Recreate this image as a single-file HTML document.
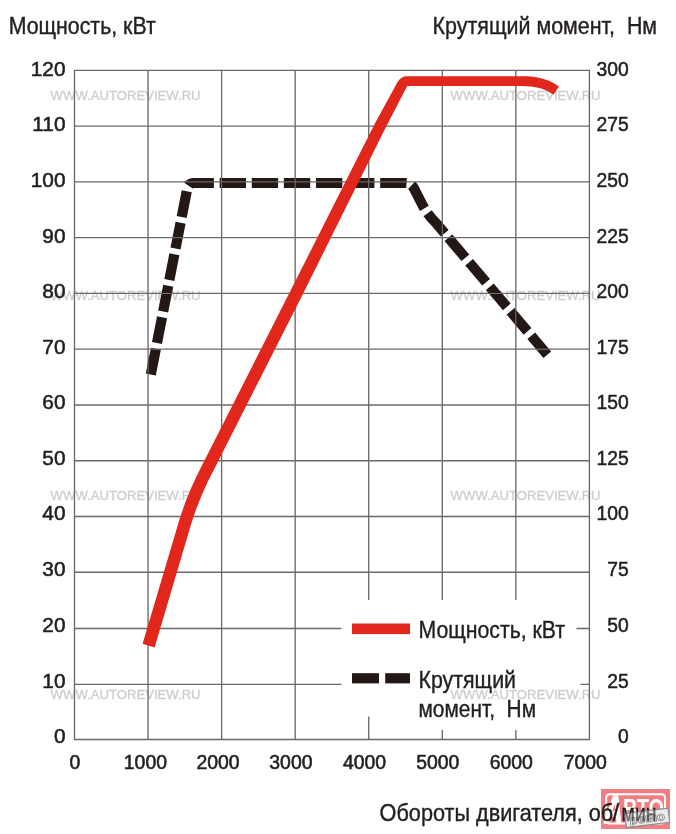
<!DOCTYPE html>
<html lang="ru"><head><meta charset="utf-8"><title>Мощность и крутящий момент</title>
<style>
html,body{margin:0;padding:0;background:#fff;}
body{width:676px;height:834px;overflow:hidden;}
svg{display:block;font-family:"Liberation Sans",sans-serif;}
.t{fill:#231f20}
.wm{fill:#cdcdcd;stroke:#cdcdcd;stroke-width:0.3px;font-size:13.4px}
.tt{stroke:#231f20;stroke-width:0.4px}
.tk{stroke:#231f20;stroke-width:0.55px}
</style></head><body>
<svg width="676" height="834" viewBox="0 0 676 834">
<rect width="676" height="834" fill="#fff"/>

<g class="wm">
<text x="50.6" y="100" textLength="150" lengthAdjust="spacingAndGlyphs">WWW.AUTOREVIEW.RU</text>
<text x="450.6" y="100" textLength="150" lengthAdjust="spacingAndGlyphs">WWW.AUTOREVIEW.RU</text>
<text x="50.6" y="300" textLength="150" lengthAdjust="spacingAndGlyphs">WWW.AUTOREVIEW.RU</text>
<text x="450.6" y="300" textLength="150" lengthAdjust="spacingAndGlyphs">WWW.AUTOREVIEW.RU</text>
<text x="50.6" y="499.8" textLength="150" lengthAdjust="spacingAndGlyphs">WWW.AUTOREVIEW.RU</text>
<text x="450.6" y="499.8" textLength="150" lengthAdjust="spacingAndGlyphs">WWW.AUTOREVIEW.RU</text>
<text x="50.6" y="699.4" textLength="150" lengthAdjust="spacingAndGlyphs">WWW.AUTOREVIEW.RU</text>
<text x="450.6" y="699.4" textLength="150" lengthAdjust="spacingAndGlyphs">WWW.AUTOREVIEW.RU</text>
</g>
<g stroke="#6a6a6a" stroke-width="1.35" fill="none">
<line x1="74.50" y1="70.40" x2="74.50" y2="739.50"/>
<line x1="148.06" y1="70.40" x2="148.06" y2="739.50"/>
<line x1="221.61" y1="70.40" x2="221.61" y2="739.50"/>
<line x1="295.17" y1="70.40" x2="295.17" y2="739.50"/>
<line x1="368.73" y1="70.40" x2="368.73" y2="739.50"/>
<line x1="442.29" y1="70.40" x2="442.29" y2="739.50"/>
<line x1="515.84" y1="70.40" x2="515.84" y2="739.50"/>
<line x1="589.40" y1="70.40" x2="589.40" y2="739.50"/>
<line x1="73.90" y1="70.40" x2="590.00" y2="70.40"/>
<line x1="73.90" y1="126.16" x2="590.00" y2="126.16"/>
<line x1="73.90" y1="181.92" x2="590.00" y2="181.92"/>
<line x1="73.90" y1="237.68" x2="590.00" y2="237.68"/>
<line x1="73.90" y1="293.43" x2="590.00" y2="293.43"/>
<line x1="73.90" y1="349.19" x2="590.00" y2="349.19"/>
<line x1="73.90" y1="404.95" x2="590.00" y2="404.95"/>
<line x1="73.90" y1="460.71" x2="590.00" y2="460.71"/>
<line x1="73.90" y1="516.47" x2="590.00" y2="516.47"/>
<line x1="73.90" y1="572.23" x2="590.00" y2="572.23"/>
<line x1="73.90" y1="628.48" x2="590.00" y2="628.48"/>
<line x1="73.90" y1="684.44" x2="590.00" y2="684.44"/>
<line x1="73.90" y1="739.50" x2="590.00" y2="739.50" stroke-width="1.6"/>
</g>
<rect x="341.5" y="600" width="235" height="116.5" fill="#fff"/><rect x="410" y="660" width="170.5" height="70" fill="#fff"/>
<clipPath id="lb"><rect x="341.5" y="600" width="235" height="116.5"/><rect x="410" y="660" width="170.5" height="70"/></clipPath>
<g class="wm" clip-path="url(#lb)"><text x="450.6" y="699.4" textLength="150" lengthAdjust="spacingAndGlyphs">WWW.AUTOREVIEW.RU</text></g>
<path d="M150.8,374.6 L187.3,188.5 Q188.4,183 194,183 L406,183 Q411,183 414,188.5 L423,206 Q428,215 436,223 L547.3,354.8" fill="none" stroke="#231815" stroke-width="10.2" stroke-dasharray="26.3 5.8"/>
<mask id="bm" maskUnits="userSpaceOnUse" x="0" y="0" width="676" height="834"><path d="M150.8,374.6 L187.3,188.5 Q188.4,183 194,183 L406,183 Q411,183 414,188.5 L423,206 Q428,215 436,223 L547.3,354.8" fill="none" stroke="#fff" stroke-width="10.2" stroke-dasharray="26.3 5.8"/></mask>
<g mask="url(#bm)" stroke="#a09a96" stroke-width="0.9" opacity="0.8" fill="none">
<line x1="148.06" y1="176.00" x2="148.06" y2="380.00"/>
<line x1="221.61" y1="176.00" x2="221.61" y2="380.00"/>
<line x1="295.17" y1="176.00" x2="295.17" y2="380.00"/>
<line x1="368.73" y1="176.00" x2="368.73" y2="380.00"/>
<line x1="442.29" y1="176.00" x2="442.29" y2="380.00"/>
<line x1="515.84" y1="176.00" x2="515.84" y2="380.00"/>
<line x1="140.00" y1="181.92" x2="560.00" y2="181.92"/>
<line x1="140.00" y1="237.68" x2="560.00" y2="237.68"/>
<line x1="140.00" y1="293.43" x2="560.00" y2="293.43"/>
<line x1="140.00" y1="349.19" x2="560.00" y2="349.19"/>
</g>
<path d="M154.6,647.4 L142.6,643.8 L178.5,522.7 L179.9,518.0 L181.5,513.3 L183.1,508.7 L184.8,504.0 L186.5,499.3 L188.4,494.7 L190.3,490.0 L192.3,485.4 L194.5,480.8 L196.6,476.2 L198.9,471.6 L290.6,290.6 L375.0,123.2 L397.7,81.8 Q400.8,76.2 407.3,76.2 L522.0,76.2 L526.8,76.3 L531.4,76.6 L535.9,77.2 L540.1,78.1 L544.2,79.2 L548.2,80.6 L552.0,82.3 L555.6,84.3 L558.9,86.5 L553.5,94.7 L550.5,92.8 L547.6,91.2 L544.5,89.8 L541.3,88.6 L537.9,87.7 L534.2,87.0 L530.4,86.5 L526.3,86.2 L522.0,86.0 L407.2,86.0 L385.2,128.4 L301.8,296.2 L210.1,477.2 L207.9,481.6 L205.8,486.1 L203.8,490.5 L201.8,495.0 L200.0,499.4 L198.2,503.9 L196.5,508.3 L194.9,512.8 L193.3,517.3 L191.9,521.8 L190.5,526.3 L154.6,647.4Z" fill="#e1261c"/>
<g>
<rect x="601" y="789" width="69" height="40" fill="#ef7f83"/>
<rect x="606.2" y="794.2" width="58.8" height="29.3" rx="3.5" ry="3.5" fill="none" stroke="#fff" stroke-width="1.9"/>
<text x="604.6" y="822.6" font-size="39px" font-weight="bold" font-style="italic" fill="#fff" stroke="#fff" stroke-width="1.6" stroke-linejoin="round" textLength="18" lengthAdjust="spacingAndGlyphs">А</text>
<text x="623" y="818.2" font-size="27px" font-weight="bold" fill="#fff" textLength="41" lengthAdjust="spacingAndGlyphs">ВТО</text>
</g>
<g transform="rotate(-7 647 818)"><rect x="625.5" y="810.8" width="43.5" height="14.2" rx="1.5" fill="#ececec" stroke="#8c8c8c" stroke-width="1.1"/>
<text x="629" y="822.3" font-size="12px" font-weight="bold" fill="#f2f2f2" stroke="#8e8e8e" stroke-width="0.8" textLength="36" lengthAdjust="spacingAndGlyphs">ревю</text></g>
<rect x="352" y="623.5" width="58" height="10.6" fill="#e1261c"/>
<rect x="352" y="673.2" width="27" height="10.2" fill="#231815"/><rect x="385.2" y="673.2" width="24.8" height="10.2" fill="#231815"/>
<g class="t tt" font-size="24.6px">
<text x="418.5" y="637.7" textLength="146.5" lengthAdjust="spacingAndGlyphs">Мощность, кВт</text>
<text x="418.5" y="687.9" textLength="97.5" lengthAdjust="spacingAndGlyphs">Крутящий</text>
<text x="418.5" y="716.7" textLength="117.5" lengthAdjust="spacingAndGlyphs" xml:space="preserve">момент,  Нм</text>
<text x="8.7" y="33.8" textLength="147" lengthAdjust="spacingAndGlyphs">Мощность, кВт</text>
<text x="432.6" y="33.8" textLength="224.5" lengthAdjust="spacingAndGlyphs" xml:space="preserve">Крутящий момент,  Нм</text>
<text x="379.6" y="821.2" textLength="233.6" lengthAdjust="spacingAndGlyphs">Обороты двигателя, об</text>
<text x="612.6" y="821.2">/</text>
<text x="621.6" y="821.2" textLength="35" lengthAdjust="spacingAndGlyphs">мин</text>
</g>
<g transform="rotate(-7 647 818)" opacity="0.35"><rect x="625.5" y="810.8" width="43.5" height="14.2" rx="1.5" fill="#ececec" stroke="#8c8c8c" stroke-width="1.1"/>
<text x="629" y="822.3" font-size="12px" font-weight="bold" fill="#f2f2f2" stroke="#8e8e8e" stroke-width="0.8" textLength="36" lengthAdjust="spacingAndGlyphs">ревю</text></g>
<g class="t tk" font-size="20.8px" text-anchor="end">
<text x="65.5" y="75.8">120</text>
<text x="65.5" y="131.4">110</text>
<text x="65.5" y="187.0">100</text>
<text x="65.5" y="242.5">90</text>
<text x="65.5" y="298.1">80</text>
<text x="65.5" y="353.7">70</text>
<text x="65.5" y="409.3">60</text>
<text x="65.5" y="464.9">50</text>
<text x="65.5" y="520.4">40</text>
<text x="65.5" y="576.0">30</text>
<text x="65.5" y="632.1">20</text>
<text x="65.5" y="688.0">10</text>
<text x="65.5" y="742.8">0</text>
</g>
<g class="t tk" font-size="19.3px" text-anchor="end" style="stroke-width:0.5px">
<text x="628.7" y="75.8">300</text>
<text x="628.7" y="131.4">275</text>
<text x="628.7" y="187.0">250</text>
<text x="628.7" y="242.5">225</text>
<text x="628.7" y="298.1">200</text>
<text x="628.7" y="353.7">175</text>
<text x="628.7" y="409.3">150</text>
<text x="628.7" y="464.9">125</text>
<text x="628.7" y="520.4">100</text>
<text x="628.7" y="576.0">75</text>
<text x="628.7" y="632.1">50</text>
<text x="628.7" y="688.0">25</text>
<text x="628.7" y="742.8">0</text>
</g>
<g class="t tk" font-size="19.4px" text-anchor="middle">
<text x="74.9" y="769">0</text>
<text x="145.4" y="769">1000</text>
<text x="218.0" y="769">2000</text>
<text x="290.9" y="769">3000</text>
<text x="364.5" y="769">4000</text>
<text x="437.7" y="769">5000</text>
<text x="511.3" y="769">6000</text>
<text x="585.2" y="769">7000</text>
</g>
</svg></body></html>
